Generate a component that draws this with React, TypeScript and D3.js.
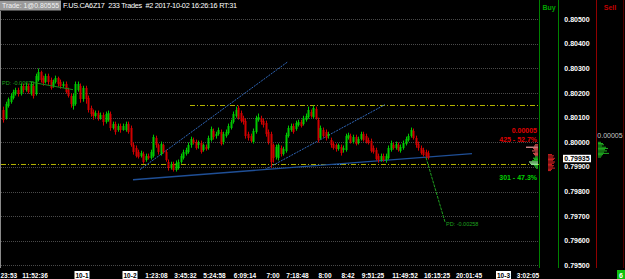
import React from 'react';
import * as d3 from 'd3';

const opens = [
  0.80133, 0.80100, 0.80149, 0.80165, 0.80182, 0.80198, 0.80214, 0.80198, 0.80230, 0.80214,
  0.80230, 0.80198, 0.80230, 0.80198, 0.80255, 0.80287, 0.80263, 0.80247, 0.80271, 0.80255,
  0.80230, 0.80247, 0.80263, 0.80247, 0.80230, 0.80239, 0.80214, 0.80190, 0.80149, 0.80157,
  0.80214, 0.80230, 0.80174, 0.80222, 0.80182, 0.80141, 0.80125, 0.80108, 0.80121, 0.80100,
  0.80113, 0.80084, 0.80092, 0.80117, 0.80060, 0.80076, 0.80052, 0.80068, 0.80052, 0.80052,
  0.80076, 0.80060, 0.79991, 0.79978, 0.79962, 0.79946, 0.79954, 0.79930, 0.79946, 0.79938,
  0.79946, 0.80019, 0.79987, 0.79954, 0.79987, 0.79962, 0.79921, 0.79897, 0.79913, 0.79889,
  0.79897, 0.79921, 0.79938, 0.79954, 0.79962, 0.79987, 0.80011, 0.80003, 0.79987, 0.79999,
  0.79970, 0.79982, 0.79978, 0.80011, 0.80047, 0.80027, 0.80035, 0.80043, 0.80003, 0.80027,
  0.80039, 0.80060, 0.80084, 0.80108, 0.80141, 0.80121, 0.80100, 0.80088, 0.80035, 0.80027,
  0.80003, 0.80043, 0.80092, 0.80100, 0.80088, 0.80080, 0.80043, 0.80035, 0.79987, 0.79942,
  0.79938, 0.79978, 0.79954, 0.79966, 0.80027, 0.80052, 0.80068, 0.80056, 0.80072, 0.80084,
  0.80076, 0.80092, 0.80104, 0.80125, 0.80104, 0.80137, 0.80092, 0.80019, 0.80052, 0.80043,
  0.80027, 0.80011, 0.79995, 0.79987, 0.79974, 0.79982, 0.79970, 0.79970, 0.80019, 0.80027,
  0.80003, 0.80023, 0.79999, 0.80015, 0.80035, 0.80027, 0.80011, 0.80007, 0.79978, 0.79970,
  0.79946, 0.79930, 0.79946, 0.79930, 0.79938, 0.79970, 0.79991, 0.79978, 0.79991, 0.79966,
  0.79978, 0.79995, 0.80011, 0.80027, 0.80047, 0.80019, 0.79995, 0.79978, 0.79970, 0.79962,
  0.79958,
];
const closes = [
  0.80092, 0.80157, 0.80174, 0.80190, 0.80206, 0.80214, 0.80198, 0.80230, 0.80214, 0.80230,
  0.80206, 0.80239, 0.80190, 0.80271, 0.80287, 0.80255, 0.80243, 0.80271, 0.80247, 0.80222,
  0.80247, 0.80263, 0.80239, 0.80230, 0.80239, 0.80206, 0.80190, 0.80157, 0.80190, 0.80239,
  0.80239, 0.80174, 0.80222, 0.80174, 0.80133, 0.80117, 0.80108, 0.80121, 0.80100, 0.80113,
  0.80084, 0.80117, 0.80121, 0.80060, 0.80076, 0.80043, 0.80068, 0.80052, 0.80068, 0.80076,
  0.80043, 0.79991, 0.79962, 0.79946, 0.79942, 0.79958, 0.79921, 0.79946, 0.79938, 0.79962,
  0.80023, 0.79987, 0.79962, 0.79995, 0.79962, 0.79930, 0.79897, 0.79913, 0.79889, 0.79917,
  0.79921, 0.79946, 0.79962, 0.79970, 0.79991, 0.80015, 0.79999, 0.79978, 0.79999, 0.79962,
  0.79987, 0.79974, 0.80019, 0.80056, 0.80023, 0.80035, 0.80052, 0.79995, 0.80035, 0.80043,
  0.80068, 0.80084, 0.80117, 0.80133, 0.80100, 0.80088, 0.80084, 0.80027, 0.80019, 0.80007,
  0.80047, 0.80100, 0.80104, 0.80084, 0.80072, 0.80035, 0.80003, 0.79921, 0.79938, 0.79982,
  0.79987, 0.79954, 0.79974, 0.80031, 0.80060, 0.80068, 0.80043, 0.80080, 0.80084, 0.80068,
  0.80100, 0.80108, 0.80133, 0.80108, 0.80141, 0.80100, 0.80011, 0.80060, 0.80027, 0.80019,
  0.80035, 0.79987, 0.79978, 0.79974, 0.79987, 0.79958, 0.79978, 0.80027, 0.80031, 0.80003,
  0.80023, 0.79995, 0.80015, 0.80035, 0.80011, 0.80003, 0.79999, 0.79966, 0.79962, 0.79934,
  0.79930, 0.79946, 0.79930, 0.79946, 0.79978, 0.79999, 0.79978, 0.79995, 0.79970, 0.79982,
  0.79999, 0.80015, 0.80027, 0.80052, 0.80019, 0.79987, 0.79978, 0.79958, 0.79950, 0.79946,
  0.79935,
];
const highs = [
  0.80145, 0.80165, 0.80182, 0.80198, 0.80214, 0.80222, 0.80222, 0.80239, 0.80239, 0.80243,
  0.80239, 0.80247, 0.80239, 0.80279, 0.80300, 0.80291, 0.80271, 0.80279, 0.80279, 0.80263,
  0.80255, 0.80271, 0.80267, 0.80255, 0.80247, 0.80247, 0.80222, 0.80198, 0.80198, 0.80247,
  0.80247, 0.80239, 0.80230, 0.80230, 0.80190, 0.80149, 0.80133, 0.80129, 0.80129, 0.80121,
  0.80121, 0.80125, 0.80129, 0.80125, 0.80084, 0.80084, 0.80076, 0.80076, 0.80076, 0.80084,
  0.80084, 0.80068, 0.79999, 0.79987, 0.79970, 0.79966, 0.79962, 0.79954, 0.79954, 0.79970,
  0.80031, 0.80027, 0.79995, 0.80003, 0.79995, 0.79970, 0.79930, 0.79921, 0.79921, 0.79926,
  0.79930, 0.79954, 0.79970, 0.79978, 0.79999, 0.80023, 0.80019, 0.80011, 0.80007, 0.80007,
  0.79995, 0.79991, 0.80027, 0.80064, 0.80056, 0.80043, 0.80060, 0.80052, 0.80043, 0.80052,
  0.80076, 0.80092, 0.80125, 0.80145, 0.80149, 0.80129, 0.80108, 0.80096, 0.80043, 0.80035,
  0.80056, 0.80108, 0.80117, 0.80108, 0.80096, 0.80088, 0.80052, 0.80043, 0.79995, 0.79991,
  0.79995, 0.79987, 0.79982, 0.80039, 0.80068, 0.80076, 0.80076, 0.80088, 0.80092, 0.80092,
  0.80108, 0.80117, 0.80145, 0.80133, 0.80149, 0.80145, 0.80100, 0.80068, 0.80060, 0.80052,
  0.80043, 0.80019, 0.80003, 0.79995, 0.79995, 0.79991, 0.79987, 0.80035, 0.80039, 0.80035,
  0.80031, 0.80031, 0.80023, 0.80043, 0.80043, 0.80035, 0.80019, 0.80015, 0.79987, 0.79978,
  0.79954, 0.79954, 0.79954, 0.79954, 0.79987, 0.80007, 0.79999, 0.80003, 0.79999, 0.79991,
  0.80007, 0.80023, 0.80035, 0.80060, 0.80056, 0.80027, 0.80003, 0.79987, 0.79978, 0.79970,
  0.79966,
];
const lows = [
  0.80080, 0.80092, 0.80141, 0.80157, 0.80174, 0.80190, 0.80186, 0.80190, 0.80202, 0.80206,
  0.80198, 0.80190, 0.80178, 0.80190, 0.80247, 0.80243, 0.80230, 0.80239, 0.80234, 0.80214,
  0.80222, 0.80239, 0.80226, 0.80218, 0.80222, 0.80198, 0.80182, 0.80141, 0.80133, 0.80149,
  0.80206, 0.80161, 0.80165, 0.80157, 0.80121, 0.80104, 0.80092, 0.80100, 0.80088, 0.80092,
  0.80068, 0.80076, 0.80084, 0.80047, 0.80052, 0.80031, 0.80043, 0.80039, 0.80047, 0.80043,
  0.80035, 0.79982, 0.79950, 0.79938, 0.79934, 0.79938, 0.79913, 0.79921, 0.79930, 0.79930,
  0.79938, 0.79978, 0.79950, 0.79946, 0.79954, 0.79921, 0.79885, 0.79889, 0.79881, 0.79881,
  0.79889, 0.79913, 0.79930, 0.79946, 0.79954, 0.79978, 0.79991, 0.79970, 0.79974, 0.79954,
  0.79962, 0.79966, 0.79970, 0.80003, 0.80011, 0.80015, 0.80027, 0.79987, 0.79991, 0.80019,
  0.80031, 0.80052, 0.80076, 0.80100, 0.80092, 0.80080, 0.80072, 0.80015, 0.80007, 0.79999,
  0.79995, 0.80035, 0.80084, 0.80072, 0.80060, 0.80023, 0.79991, 0.79897, 0.79917, 0.79930,
  0.79926, 0.79942, 0.79946, 0.79958, 0.80019, 0.80043, 0.80035, 0.80047, 0.80064, 0.80060,
  0.80068, 0.80084, 0.80096, 0.80100, 0.80096, 0.80092, 0.79999, 0.80011, 0.80019, 0.80007,
  0.80015, 0.79978, 0.79970, 0.79962, 0.79966, 0.79946, 0.79958, 0.79962, 0.80011, 0.79995,
  0.79995, 0.79987, 0.79991, 0.80007, 0.80003, 0.79995, 0.79991, 0.79958, 0.79954, 0.79926,
  0.79917, 0.79921, 0.79921, 0.79917, 0.79930, 0.79962, 0.79970, 0.79970, 0.79962, 0.79958,
  0.79970, 0.79987, 0.80003, 0.80019, 0.80011, 0.79978, 0.79966, 0.79950, 0.79942, 0.79934,
  0.79930,
];

const priceTicks = [0.805, 0.804, 0.803, 0.802, 0.801, 0.8, 0.799, 0.798, 0.797, 0.796, 0.795];
const timeLabels = ['23:53', '11:52:36', '10-1', '10-2', '1:23:08', '3:45:32', '5:24:58', '6:09:14', '7:00', '7:18:48', '8:00', '8:42', '9:51:25', '11:49:52', '16:15:25', '20:01:45', '10-3', '3:02:05'];
const timeLabelIdx = [1.3, 12.8, 31.6, 50.8, 61.4, 73, 84.6, 96.8, 108, 117.8, 128.8, 138, 148, 160.8, 173.6, 186.4, 200.2, 210];
const dateLabels = ['10-1', '10-2', '10-3'];

const upperLevel = 0.8015;
const lowerLevel = 0.79912;
const lastPrice = 0.79935;

// trend lines: [idx1, price1, idx2, price2]
const channelUpper = [54.8, 0.79889, 114, 0.80328];
const channelMid = [104.8, 0.79889, 152.8, 0.80153];
const trendLow = [52, 0.79848, 187.6, 0.79954];
const pdLineRight = [169.2, 0.79938, 176.8, 0.79676];
const pdLineLeft = [12, 0.80243, 28, 0.80214];

const profileAskPrices = [0.7999, 0.79985, 0.7998, 0.79975, 0.7997, 0.79965, 0.7996, 0.79955, 0.7995, 0.79945];
const profileAskVol = [3, 4, 12, 5, 4, 6, 3, 5, 4, 3];
const profileBidPrices = [0.7994, 0.79935, 0.7993, 0.79925, 0.7992, 0.79915, 0.7991, 0.79905, 0.799, 0.79895];
const profileBidVol = [3, 5, 4, 6, 9, 8, 7, 4, 3, 2];
const buyColPrices = [0.7995, 0.79945, 0.7994, 0.79935, 0.7993, 0.79925, 0.7992, 0.79915, 0.7991, 0.79905, 0.799, 0.79895, 0.7989, 0.79885];
const buyColVol = [4, 6, 5, 7, 6, 5, 7, 6, 4, 6, 5, 7, 4, 3];
const sellColPrices = [0.8, 0.79995, 0.7999, 0.79985, 0.7998, 0.79975, 0.7997, 0.79965, 0.7996, 0.79955, 0.7995, 0.79945, 0.7994];
const sellColVol = [3, 5, 6, 4, 8, 10, 7, 9, 6, 11, 5, 4, 3];

const FONT = "'Liberation Sans', Arial, sans-serif";

export default function App() {
  const W = 625, H = 279;
  const x = d3.scaleLinear().domain([0, 214.4]).range([3, 539]);
  const y = d3.scaleLinear().domain([0.795, 0.805]).range([265.3, 19.3]);
  const GREEN = '#00c800';
  const RED = '#d00000';

  const seg = (s: number[], color: string, width: number, dash?: string, key?: string) => (
    <line key={key} x1={x(s[0])} y1={y(s[1])} x2={x(s[2])} y2={y(s[3])} stroke={color} strokeWidth={width} strokeDasharray={dash} />
  );

  return (
    <div style={{ position: 'fixed', left: 0, top: 0, width: W, height: H, background: '#000' }}>
      <svg width={W} height={H} style={{ display: 'block' }} fontFamily={FONT}>
        <rect width={W} height={H} fill="#000" />
        {/* grid */}
        {priceTicks.map((p) => (
          <line key={'g' + p} x1={1} x2={539} y1={Math.round(y(p)) + 0.5} y2={Math.round(y(p)) + 0.5} stroke="#4a4a4a" strokeDasharray="1 1" />
        ))}
        {/* left border */}
        <line x1={0.5} x2={0.5} y1={11} y2={268} stroke="#8a8a8a" />
        {/* level lines */}
        <line x1={1} x2={539} y1={Math.round(y(lowerLevel)) + 0.5} y2={Math.round(y(lowerLevel)) + 0.5} stroke="#b4b400" strokeDasharray="5 2 1 2" />
        <line x1={190} x2={539} y1={Math.round(y(upperLevel)) + 0.5} y2={Math.round(y(upperLevel)) + 0.5} stroke="#b4b400" strokeDasharray="5 2 1 2" />
        <line x1={328} x2={341} y1={Math.round(y(lowerLevel)) + 0.5} y2={Math.round(y(lowerLevel)) + 0.5} stroke="#5aa8e0" strokeDasharray="2 1" />
        {/* trend lines */}
        {seg(channelUpper, '#2f66b8', 1, '2 1', 'cu')}
        {seg(channelMid, '#2f66b8', 1, '2 1', 'cm')}
        {seg(trendLow, '#1f4f96', 1.4, undefined, 'tl')}
        {/* candles */}
        {closes.map((c, i) => {
          const o = opens[i];
          const up = c >= o;
          const col = up ? GREEN : RED;
          const cx = Math.round(x(i));
          const top = Math.round(y(Math.max(o, c)));
          const bot = Math.round(y(Math.min(o, c)));
          return (
            <g key={'c' + i}>
              <line x1={cx + 0.5} x2={cx + 0.5} y1={y(highs[i])} y2={y(lows[i])} stroke={col} strokeWidth={1} />
              <rect x={cx - 0.5} y={top} width={2} height={Math.max(1, bot - top)} fill={col} />
            </g>
          );
        })}
        {/* PD lines */}
        {seg(pdLineLeft, '#1c8c1c', 1, undefined, 'pl')}
        <text x={2} y={y(0.80243) + 2} fontSize={5.5} fill="#1fa01f">PD: -0.00075</text>
        {seg(pdLineRight, '#1fa01f', 1, '3 1', 'pr')}
        <text x={446} y={y(0.79676) + 4} fontSize={5.5} fill="#1fa01f">PD: -0.00258</text>
        {/* profile in plot */}
        {profileAskPrices.map((p, i) => (
          <rect key={'pa' + i} x={538 - profileAskVol[i]} y={y(p) - 0.6} width={profileAskVol[i]} height={1.2} fill={profileAskVol[i] > 8 ? '#f0a0a0' : '#c84a4a'} />
        ))}
        {profileBidPrices.map((p, i) => (
          <rect key={'pb' + i} x={538 - profileBidVol[i]} y={y(p) - 0.6} width={profileBidVol[i]} height={1.2} fill={profileBidVol[i] > 6 ? '#90e090' : '#20b020'} />
        ))}
        <text x={537} y={133} fontSize={7} fontWeight="bold" fill="#e00000" textAnchor="end">0.00005</text>
        <text x={537} y={142} fontSize={7} fontWeight="bold" fill="#e00000" textAnchor="end">425 - 52.7%</text>
        <text x={537} y={180} fontSize={7} fontWeight="bold" fill="#00d000" textAnchor="end">301 - 47.3%</text>
        {/* columns */}
        <line x1={539.5} x2={539.5} y1={0} y2={268} stroke="#008000" />
        <line x1={558.5} x2={558.5} y1={0} y2={268} stroke="#008000" />
        <line x1={596.5} x2={596.5} y1={0} y2={268} stroke="#900000" />
        <line x1={623.5} x2={623.5} y1={0} y2={268} stroke="#500000" />
        <text x={549} y={10} fontSize={7} fontWeight="bold" fill="#00a000" textAnchor="middle">Buy</text>
        <text x={610} y={10} fontSize={7} fontWeight="bold" fill="#c00000" textAnchor="middle">Sell</text>
        {buyColPrices.map((p, i) => (
          <rect key={'bc' + i} x={548} y={y(p) - 0.5} width={buyColVol[i]} height={1} fill="#d02020" />
        ))}
        {sellColPrices.map((p, i) => (
          <rect key={'sc' + i} x={598} y={y(p) - 0.5} width={sellColVol[i]} height={1} fill="#20b020" />
        ))}
        <text x={610} y={138} fontSize={7} fill="#c8c8c8" textAnchor="middle">0.00005</text>
        {/* price axis */}
        {priceTicks.map((p) => (
          <text key={'t' + p} x={577} y={y(p) + 2.5} fontSize={7} fontWeight="bold" fill="#ffffff" textAnchor="middle">{d3.format('.5f')(p)}</text>
        ))}
        <rect x={563} y={y(lastPrice) - 3.5} width={28} height={7.5} fill="#ffffff" />
        <text x={577} y={y(lastPrice) + 2.6} fontSize={7} fontWeight="bold" fill="#000" textAnchor="middle">{d3.format('.5f')(lastPrice)}</text>
        {/* time axis */}
        {timeLabels.map((t, i) => {
          const cx = x(timeLabelIdx[i]);
          const isDate = dateLabels.includes(t);
          const atEdge = i === 0;
          return (
            <g key={'tl' + i}>
              {isDate && <rect x={cx - 7.5} y={271} width={15} height={8} fill="#ffffff" />}
              <text x={atEdge ? 0.5 : cx} y={277.5} fontSize={6.5} fontWeight="bold" fill={isDate ? '#000' : '#ffffff'} textAnchor={atEdge ? 'start' : 'middle'}>{t}</text>
            </g>
          );
        })}
        <rect x={617} y={270} width={8} height={9} fill="#10c010" />
        <text x={621} y={277.5} fontSize={7} fontWeight="bold" fill="#ffffff" textAnchor="middle">6</text>
        {/* header */}
        <rect x={0} y={0.5} width={61} height={10} fill="#9a9a9a" />
        <text x={2} y={8.3} fontSize={7} fill="#f2f2f2" textLength={57} lengthAdjust="spacingAndGlyphs">Trade: 1@0.80555</text>
        <text x={63} y={8.3} fontSize={7.3} fill="#ffffff" textLength={174} lengthAdjust="spacing" style={{ whiteSpace: 'pre' }}>{'F.US.CA6Z17  233 Trades  #2 2017-10-02 16:26:16 RT:31'}</text>
      </svg>
    </div>
  );
}
